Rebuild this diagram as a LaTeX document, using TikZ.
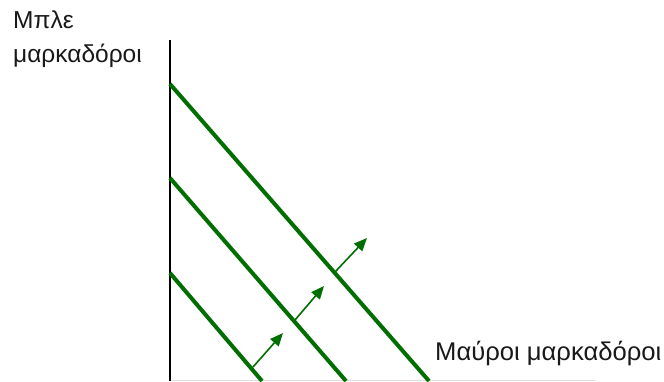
\documentclass[tikz,border=0pt]{standalone}
\usepackage{fontspec}
\setmainfont{Liberation Sans}
\usetikzlibrary{arrows.meta}
\definecolor{dgreen}{RGB}{0,110,0}
\definecolor{txt}{RGB}{25,25,25}
\begin{document}
\begin{tikzpicture}[x=1pt,y=-1pt,
  axis/.style={black,line width=2pt},
  budget/.style={dgreen,line width=4pt},
  shift arrow/.style={dgreen,line width=1.6pt,-{Triangle[length=13pt,width=11pt]}},
  lbl/.style={inner sep=0pt,text=txt,font=\fontsize{24.5}{34}\selectfont}]
\useasboundingbox (0,0) rectangle (664,381);
\coordinate (ytop) at (170,40);
\coordinate (org) at (170,381);
\coordinate (xend) at (595,380.5);
\draw[gray!25,line width=1pt] (org) ++(0,-0.5) -- (xend);
\draw[axis] (ytop) -- (org);
\coordinate (a1) at (170,84);  \coordinate (b1) at (429,381);
\coordinate (a2) at (170,178); \coordinate (b2) at (346,381);
\coordinate (a3) at (170,273); \coordinate (b3) at (262,381);
\draw[budget] (a1) -- (b1);
\draw[budget] (a2) -- (b2);
\draw[budget] (a3) -- (b3);
\coordinate (t1) at (253,367); \coordinate (h1) at (283,333);
\coordinate (t2) at (295,320); \coordinate (h2) at (324,286);
\coordinate (t3) at (335,272); \coordinate (h3) at (367,238);
\draw[shift arrow] (t1) -- (h1);
\draw[shift arrow] (t2) -- (h2);
\draw[shift arrow] (t3) -- (h3);
\node[lbl,anchor=north west,align=left] (ylab) at (13,11) {Μπλε\\μαρκαδόροι};
\node[lbl,anchor=base west,font=\fontsize{25.6}{30}\selectfont] (xlab) at (435,360) {Μαύροι μαρκαδόροι};
\end{tikzpicture}
\end{document}
